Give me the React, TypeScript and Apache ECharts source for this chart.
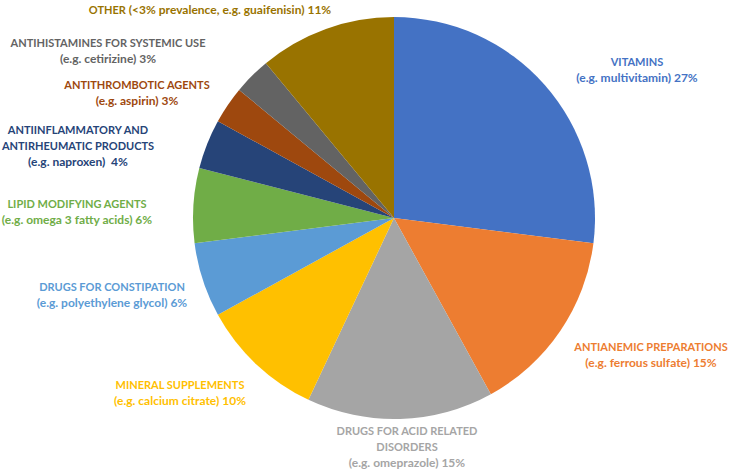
import React, { useEffect, useRef } from "react";
import * as echarts from "echarts";

const categories = [
  "VITAMINS",
  "ANTIANEMIC PREPARATIONS",
  "DRUGS FOR ACID RELATED\nDISORDERS",
  "MINERAL SUPPLEMENTS",
  "DRUGS FOR CONSTIPATION",
  "LIPID MODIFYING AGENTS",
  "ANTIINFLAMMATORY AND\nANTIRHEUMATIC PRODUCTS",
  "ANTITHROMBOTIC AGENTS",
  "ANTIHISTAMINES FOR SYSTEMIC USE",
  "OTHER",
];
const examples = [
  "(e.g. multivitamin)",
  "(e.g. ferrous sulfate)",
  "(e.g. omeprazole)",
  "(e.g. calcium citrate)",
  "(e.g. polyethylene glycol)",
  "(e.g. omega 3 fatty acids)",
  "(e.g. naproxen) ",
  "(e.g. aspirin)",
  "(e.g. cetirizine)",
  "(<3% prevalence, e.g. guaifenisin)",
];
const values = [27, 15, 15, 10, 6, 6, 4, 3, 3, 11];

const colors = [
  "#4472C4",
  "#ED7D31",
  "#A5A5A5",
  "#FFC000",
  "#5B9BD5",
  "#70AD47",
  "#264478",
  "#9E480E",
  "#636363",
  "#997300",
];
// label block centers (styling)
const labelPos: [number, number][] = [
  [637, 69],
  [651, 354],
  [407, 446],
  [180, 392],
  [112, 294],
  [77, 211],
  [78, 145],
  [137, 92],
  [108, 50],
  [210, 9],
];

export default function App() {
  const ref = useRef<HTMLDivElement>(null);
  useEffect(() => {
    if (!ref.current) return;
    const chart = echarts.init(ref.current, undefined, { renderer: "svg" });
    chart.setOption({
      animation: false,
      backgroundColor: "#ffffff",
      series: [
        {
          type: "pie",
          center: [394, 218],
          radius: 201,
          startAngle: 90,
          clockwise: true,
          avoidLabelOverlap: false,
          labelLine: { show: false },
          label: {
            show: true,
            position: "outside",
            fontFamily: "Lato",
            fontWeight: "bold",
            fontSize: 12,
            lineHeight: 16,
            align: "center",
            rich: {
              a: { fontFamily: "Lato", fontWeight: "bold", fontSize: 11, lineHeight: 16 },
              b: { fontFamily: "Lato", fontWeight: "bold", fontSize: 12, lineHeight: 16 },
            },
            formatter: (p: any) => {
              const i = p.dataIndex;
              const caps = categories[i]
                .split("\n")
                .map((s) => `{a|${s}}`)
                .join("\n");
              if (i === 9) return `${caps}{b| ${examples[i]} ${values[i]}%}`;
              return `${caps}\n{b|${examples[i]} ${values[i]}%}`;
            },
          },
          labelLayout: (p: any) => ({
            x: labelPos[p.dataIndex][0],
            y: labelPos[p.dataIndex][1],
            align: "center",
            verticalAlign: "middle",
          }),
          data: values.map((v, i) => ({
            value: v,
            name: categories[i],
            itemStyle: { color: colors[i] },
            label: { color: colors[i] },
          })),
        },
      ],
    });
    return () => chart.dispose();
  }, []);
  return (
    <div
      ref={ref}
      style={{ position: "fixed", left: 0, top: 0, width: 730, height: 470 }}
    />
  );
}
